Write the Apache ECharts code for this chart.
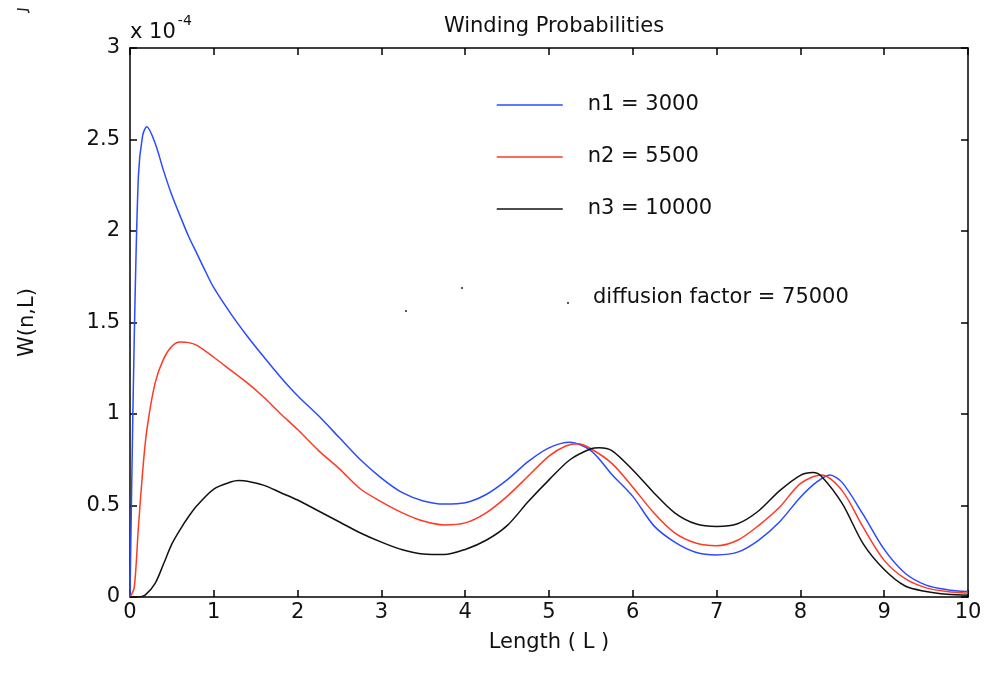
<!DOCTYPE html>
<html>
<head>
<meta charset="utf-8">
<script src="https://cdn.jsdelivr.net/npm/echarts@6/dist/echarts.min.js"></script>
<style>html,body{margin:0;padding:0;background:#fff}#c{width:985px;height:674px}</style>
</head>
<body>
<div id="c"></div>
<script>
// Values in units of 1e-4
const xBlue = [0,0.02,0.05,0.1,0.15,0.2,0.3,0.4,0.5,0.6,0.7,0.8,0.9,1.0,1.2,1.4,1.6,1.8,2.0,2.25,2.5,2.75,3.0,3.25,3.5,3.75,4.0,4.25,4.5,4.75,5.0,5.25,5.5,5.75,6.0,6.25,6.5,6.75,7.0,7.25,7.5,7.75,8.0,8.2,8.35,8.5,8.75,9.0,9.25,9.5,9.75,10];
const yBlue = [0,0.6,1.4,2.3,2.52,2.57,2.48,2.33,2.195,2.08,1.97,1.875,1.78,1.69,1.55,1.425,1.31,1.20,1.10,0.99,0.87,0.75,0.65,0.57,0.525,0.508,0.515,0.56,0.64,0.74,0.815,0.845,0.80,0.67,0.55,0.39,0.30,0.245,0.23,0.245,0.31,0.41,0.545,0.63,0.667,0.625,0.45,0.26,0.13,0.065,0.04,0.03];
const xRed = [0,0.05,0.1,0.15,0.2,0.3,0.4,0.5,0.6,0.7,0.8,1.0,1.2,1.4,1.6,1.8,2.0,2.25,2.5,2.75,3.0,3.25,3.5,3.75,4.0,4.25,4.5,4.75,5.0,5.2,5.35,5.5,5.75,6.0,6.25,6.5,6.75,7.0,7.25,7.5,7.75,8.0,8.25,8.5,8.75,9.0,9.25,9.5,9.75,10];
const yRed = [0,0.05,0.38,0.68,0.91,1.17,1.30,1.37,1.393,1.39,1.375,1.31,1.24,1.17,1.09,1.00,0.915,0.80,0.70,0.59,0.52,0.46,0.415,0.394,0.405,0.46,0.55,0.66,0.77,0.825,0.837,0.81,0.73,0.60,0.46,0.35,0.295,0.28,0.31,0.39,0.49,0.62,0.667,0.58,0.38,0.20,0.10,0.05,0.03,0.02];
const xBlack = [0,0.1,0.18,0.3,0.4,0.5,0.6,0.7,0.8,1.0,1.2,1.3,1.4,1.6,1.8,2.0,2.25,2.5,2.75,3.0,3.25,3.5,3.75,4.0,4.25,4.5,4.75,5.0,5.25,5.5,5.6,5.75,6.0,6.25,6.5,6.75,7.0,7.25,7.5,7.75,8.0,8.15,8.25,8.5,8.75,9.0,9.25,9.5,9.75,10];
const yBlack = [0,0,0.01,0.075,0.18,0.29,0.37,0.44,0.50,0.59,0.628,0.636,0.633,0.61,0.57,0.53,0.47,0.41,0.35,0.30,0.258,0.235,0.232,0.26,0.31,0.39,0.52,0.64,0.75,0.81,0.816,0.80,0.694,0.57,0.46,0.40,0.385,0.40,0.47,0.58,0.665,0.68,0.66,0.51,0.29,0.15,0.06,0.03,0.015,0.01];
const seriesNames = ['n1 = 3000','n2 = 5500','n3 = 10000'];
const xTicks = [0,1,2,3,4,5,6,7,8,9,10];
const yTicks = [0,0.5,1,1.5,2,2.5,3];

const FONT = 'DejaVu Sans';
const pairs = (xs, ys) => xs.map((x, i) => [x, ys[i]]);
const chart = echarts.init(document.getElementById('c'), null, {renderer: 'canvas'});

const baseX = {
  type: 'value', min: xTicks[0], max: xTicks[xTicks.length-1], interval: 1,
  splitLine: {show: false},
  axisLine: {show: true, onZero: false, lineStyle: {color: '#000', width: 1.5}},
  axisTick: {show: true, inside: true, length: 7, lineStyle: {color: '#000', width: 1.5}}
};
const baseY = {
  type: 'value', min: yTicks[0], max: yTicks[yTicks.length-1], interval: 0.5,
  splitLine: {show: false},
  axisLine: {show: true, onZero: false, lineStyle: {color: '#000', width: 1.5}},
  axisTick: {show: true, inside: true, length: 7, lineStyle: {color: '#000', width: 1.5}}
};

chart.setOption({
  animation: false,
  backgroundColor: '#fff',
  title: {
    text: 'Winding Probabilities', left: 549, top: 11, textAlign: 'center',
    textStyle: {fontFamily: FONT, fontSize: 21, fontWeight: 'normal', color: '#111'}
  },
  grid: {left: 130, right: 17, top: 48, bottom: 77},
  legend: {
    orient: 'vertical', left: 491, top: 88, itemWidth: 66, itemHeight: 24, itemGap: 28,
    data: seriesNames,
    textStyle: {fontFamily: FONT, fontSize: 21, color: '#111', lineHeight: 24, padding: [0,0,0,20]},
    itemStyle: {opacity: 0},
    lineStyle: {width: 1.5}
  },
  xAxis: [
    Object.assign({}, baseX, {
      position: 'bottom',
      name: 'Length ( L )', nameLocation: 'middle', nameGap: 35,
      nameTextStyle: {fontFamily: FONT, fontSize: 21, color: '#111'},
      axisLabel: {fontFamily: FONT, fontSize: 21, color: '#111', margin: 5}
    }),
    Object.assign({}, baseX, {position: 'top', axisLabel: {show: false}})
  ],
  yAxis: [
    Object.assign({}, baseY, {
      position: 'left',
      name: 'W(n,L)', nameLocation: 'middle', nameGap: 92, nameRotate: 90,
      nameTextStyle: {fontFamily: FONT, fontSize: 21, color: '#111'},
      axisLabel: {fontFamily: FONT, fontSize: 21, color: '#111', margin: 10,
        formatter: v => String(v)}
    }),
    Object.assign({}, baseY, {position: 'right', axisLabel: {show: false}})
  ],
  series: [
    {name: seriesNames[0], type: 'line', data: pairs(xBlue, yBlue), symbol: 'none', smooth: 0.3,
     lineStyle: {color: '#2a4bff', width: 1.5}, itemStyle: {color: '#2a4bff'}},
    {name: seriesNames[1], type: 'line', data: pairs(xRed, yRed), symbol: 'none', smooth: 0.3,
     lineStyle: {color: '#ff3a24', width: 1.5}, itemStyle: {color: '#ff3a24'}},
    {name: seriesNames[2], type: 'line', data: pairs(xBlack, yBlack), symbol: 'none', smooth: 0.3,
     lineStyle: {color: '#111', width: 1.5}, itemStyle: {color: '#111'}}
  ],
  graphic: [
    {type: 'text', left: 130, top: 14, style: {
      text: '{a|x 10}{b|-4}', fill: '#111',
      rich: {a: {fontFamily: FONT, fontSize: 21, padding: [8,0,0,0]}, b: {fontFamily: FONT, fontSize: 14, verticalAlign: 'top', padding: [0,0,10,2]}}
    }},
    {type: 'text', left: 593, top: 287, style: {text: 'diffusion factor = 75000', fontFamily: FONT, fontSize: 21, fill: '#111'}},
    {type: 'circle', shape: {cx: 406, cy: 311, r: 1}, style: {fill: '#222'}},
    {type: 'circle', shape: {cx: 462, cy: 288, r: 1}, style: {fill: '#222'}},
    {type: 'circle', shape: {cx: 568, cy: 303, r: 1}, style: {fill: '#222'}},
    {type: 'polyline', shape: {points: [[17,9],[28,10],[29,13]]}, style: {stroke: '#222', lineWidth: 1.5, fill: null}}
  ]
});
</script>
</body>
</html>
